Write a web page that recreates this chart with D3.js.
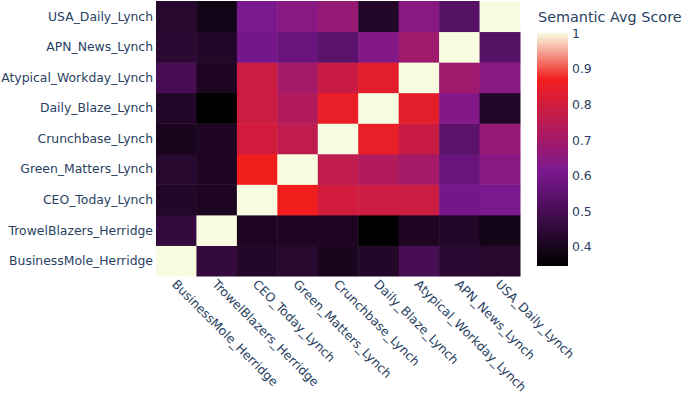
<!DOCTYPE html>
<html>
<head>
<meta charset="utf-8">
<script src="https://cdn.jsdelivr.net/npm/d3@7"></script>
<style>
  body { margin: 0; background: #fff; }
  text { font-family: "DejaVu Sans", Verdana, sans-serif; fill: #2a3f5f; }
</style>
</head>
<body>
<div id="chart"></div>
<script>
// Sites, in axis order (x left to right, y bottom to top)
const sites = [
  "BusinessMole_Herridge", "TrowelBlazers_Herridge", "CEO_Today_Lynch",
  "Green_Matters_Lynch", "Crunchbase_Lynch", "Daily_Blaze_Lynch",
  "Atypical_Workday_Lynch", "APN_News_Lynch", "USA_Daily_Lynch"
];

// Semantic avg score, one row per site (same order as sites)
const scores = [
  [1.00, 0.46, 0.42, 0.43, 0.40, 0.42, 0.50, 0.44, 0.43],
  [0.46, 1.00, 0.41, 0.41, 0.41, 0.346, 0.41, 0.42, 0.39],
  [0.42, 0.41, 1.00, 0.87, 0.80, 0.79, 0.79, 0.60, 0.61],
  [0.43, 0.41, 0.87, 1.00, 0.76, 0.73, 0.70, 0.57, 0.64],
  [0.40, 0.41, 0.80, 0.76, 1.00, 0.85, 0.78, 0.54, 0.67],
  [0.42, 0.346, 0.79, 0.73, 0.85, 1.00, 0.84, 0.63, 0.42],
  [0.50, 0.41, 0.79, 0.70, 0.78, 0.84, 1.00, 0.69, 0.64],
  [0.44, 0.42, 0.60, 0.57, 0.54, 0.63, 0.69, 1.00, 0.53],
  [0.43, 0.39, 0.61, 0.64, 0.67, 0.42, 0.64, 0.53, 1.00]
];

const colorTicks = [0.4, 0.5, 0.6, 0.7, 0.8, 0.9, 1];
const zMin = 0.346, zMax = 1;

const w = 683;
const h = 397;
const plot = { left: 156, top: 1, right: 520, bottom: 276 };

const svg = d3.select("#chart")
  .append("svg")
  .attr("width", w)
  .attr("height", h);

// Scales
const x = d3.scaleBand().domain(sites).range([plot.left, plot.right]);
const y = d3.scaleBand().domain(sites).range([plot.bottom, plot.top]);
const color = d3.scaleLinear()
  .domain([zMin, 0.61, 0.87, zMax])
  .range(["#000000", "#7a1890", "#f21e1e", "#f8fde2"])
  .clamp(true);

// Cells
const cells = [];
scores.forEach((row, i) => row.forEach((v, j) => {
  cells.push({ row: sites[i], col: sites[j], value: v });
}));

svg.append("g")
  .selectAll("rect")
  .data(cells)
  .join("rect")
  .attr("x", d => x(d.col))
  .attr("y", d => y(d.row))
  .attr("width", x.bandwidth() + 0.5)
  .attr("height", y.bandwidth() + 0.5)
  .attr("fill", d => color(d.value));

// y labels
svg.append("g")
  .selectAll("text")
  .data(sites)
  .join("text")
  .attr("x", plot.left - 3)
  .attr("y", d => y(d) + y.bandwidth() / 2)
  .attr("dy", "0.35em")
  .attr("text-anchor", "end")
  .style("font-size", "12.4px")
  .text(d => d);

// x labels, rotated 45deg
svg.append("g")
  .selectAll("text")
  .data(sites)
  .join("text")
  .attr("transform", d => `translate(${x(d) + x.bandwidth() / 2 - 2},${plot.bottom + 6}) rotate(45)`)
  .attr("dy", "0.35em")
  .attr("text-anchor", "start")
  .style("font-size", "12.4px")
  .text(d => d);

// Colorbar
const bar = { x: 537, width: 31, top: 33, bottom: 266 };
const cb = d3.scaleLinear().domain([zMin, zMax]).range([bar.bottom, bar.top]);

const grad = svg.append("defs")
  .append("linearGradient")
  .attr("id", "cbar")
  .attr("x1", 0).attr("y1", 1)
  .attr("x2", 0).attr("y2", 0);

grad.selectAll("stop")
  .data(d3.range(0, 1.0001, 0.02))
  .join("stop")
  .attr("offset", t => t)
  .attr("stop-color", t => color(zMin + t * (zMax - zMin)));

svg.append("rect")
  .attr("x", bar.x)
  .attr("y", bar.top)
  .attr("width", bar.width)
  .attr("height", bar.bottom - bar.top)
  .attr("fill", "url(#cbar)");

svg.append("g")
  .selectAll("text")
  .data(colorTicks)
  .join("text")
  .attr("x", bar.x + bar.width + 4)
  .attr("y", d => cb(d))
  .attr("dy", "0.38em")
  .style("font-size", "12.4px")
  .text(d => d3.format("~g")(d));

svg.append("text")
  .attr("x", bar.x + 1)
  .attr("y", 22)
  .style("font-size", "14.4px")
  .text("Semantic Avg Score");
</script>
</body>
</html>
